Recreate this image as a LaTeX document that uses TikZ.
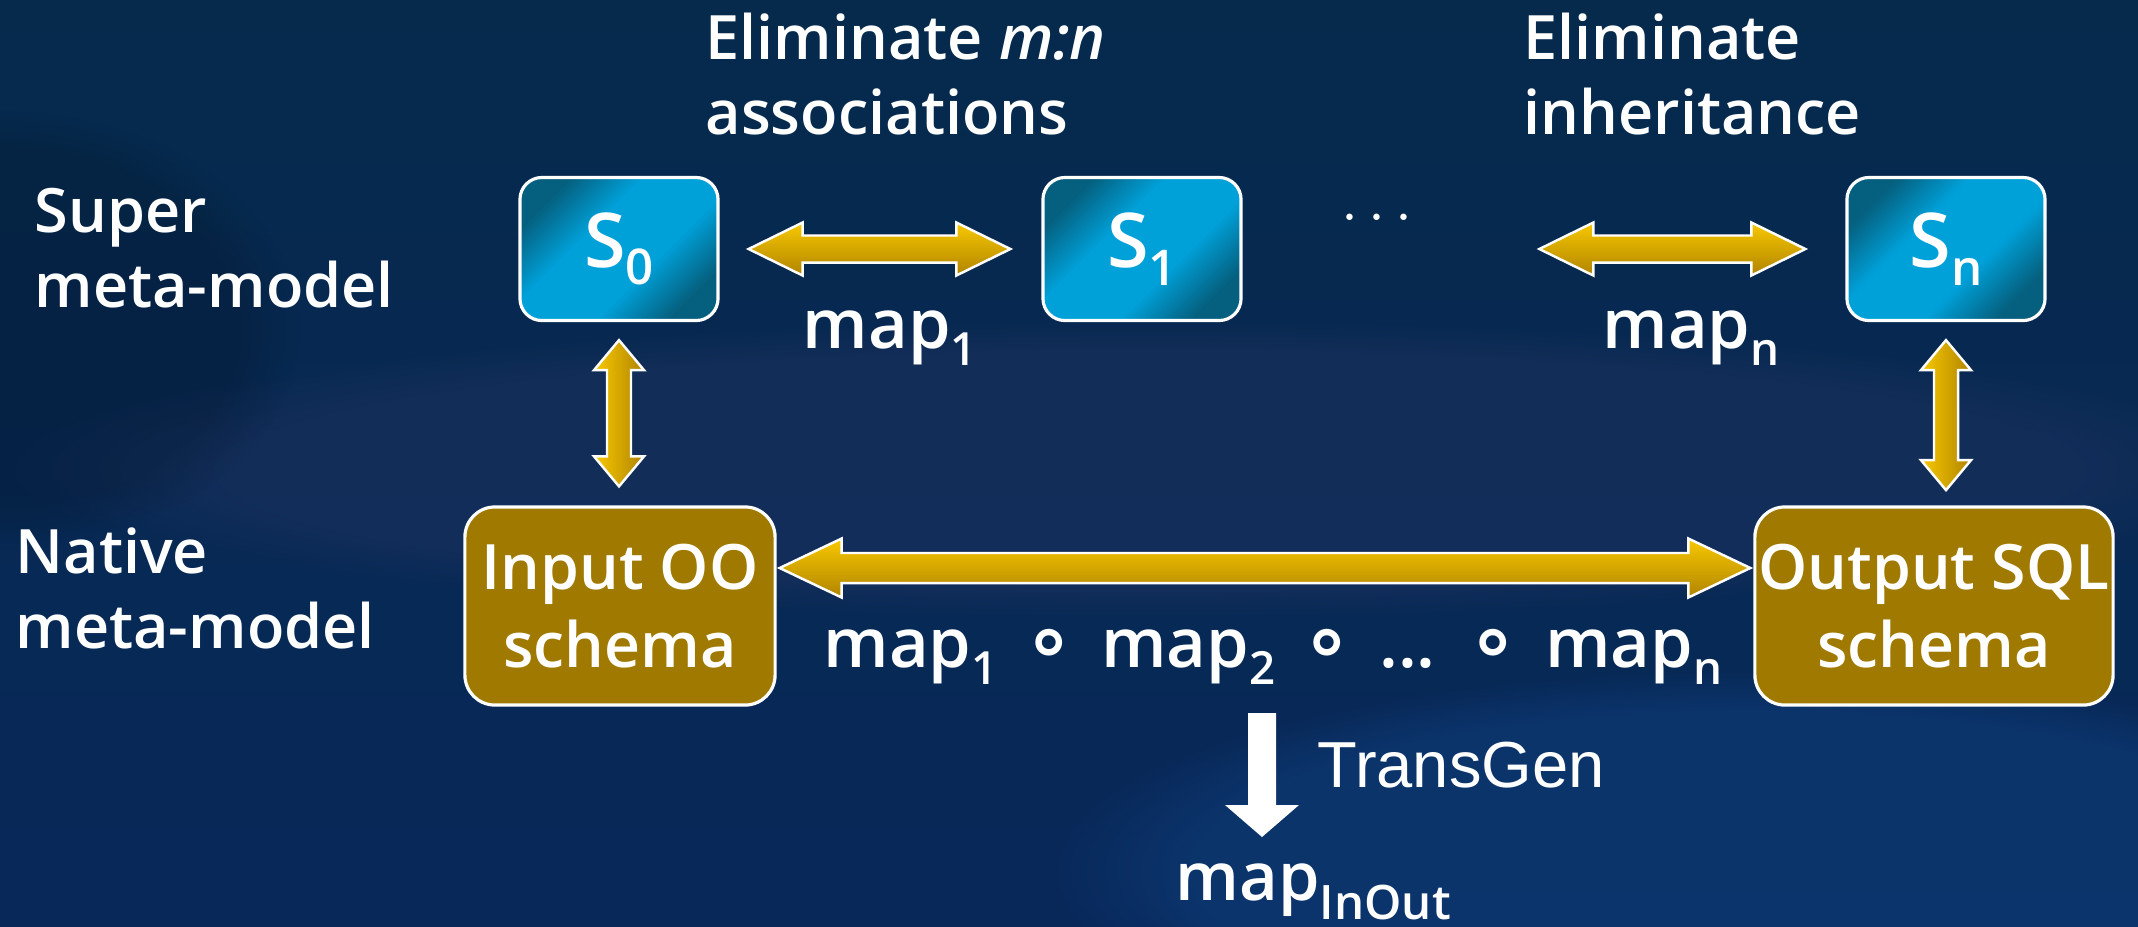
\documentclass[tikz,border=0pt]{standalone}
\usepackage{fontspec}
\IfFontExistsTF{Open Sans SemiBold}
  {\setmainfont{Open Sans SemiBold}}
  {\IfFontExistsTF{Open Sans Semibold}
    {\setmainfont{Open Sans Semibold}}
    {\setmainfont{Open Sans}[UprightFeatures={FakeBold=2}, ItalicFeatures={FakeBold=2}]}}
\newfontfamily\arialfont{Liberation Sans}
\newfontfamily\opfont{DejaVu Sans Bold}
\usetikzlibrary{calc,fadings}

\definecolor{bgtop}{HTML}{062A4C}
\definecolor{bgmid}{HTML}{0B2249}
\definecolor{bgbot}{HTML}{08285A}
\definecolor{streak}{HTML}{2C3766}
\definecolor{glow}{HTML}{0E3C78}
\definecolor{tealdark}{HTML}{05607F}
\definecolor{teallight}{HTML}{00A0D8}
\definecolor{schemabrown}{HTML}{A07A00}
\definecolor{goldlight}{HTML}{F8C800}
\definecolor{golddark}{HTML}{B08400}

\pgfdeclareverticalshading{tealbox}{100bp}{color(0bp)=(tealdark); color(25bp)=(tealdark);
  color(40bp)=(teallight); color(60bp)=(teallight); color(75bp)=(tealdark); color(100bp)=(tealdark)}

% lowered index, size and drop
\newcommand\idx[3][14pt]{\raisebox{-#2}{\fontsize{#1}{#1}\selectfont #3}}
\newcommand\comp{\hspace{0.12em}\raisebox{-0.5pt}{\scalebox{1.2}{\opfont ∘}}\hspace{0.12em}}

% double block arrows: from, to, head length, head half width, shaft half width
\newcommand\dblarrowH[5]{%
  \path[goldH] let \p1=#1, \p2=#2 in
    (\x1,\y1) -- (\x1+#3,\y1+#4) -- (\x1+#3,\y1+#5) -- (\x2-#3,\y1+#5) -- (\x2-#3,\y1+#4) -- (\x2,\y1)
    -- (\x2-#3,\y1-#4) -- (\x2-#3,\y1-#5) -- (\x1+#3,\y1-#5) -- (\x1+#3,\y1-#4) -- cycle;}
\newcommand\dblarrowV[5]{%
  \path[goldV] let \p1=#1, \p2=#2 in
    (\x1,\y1) -- (\x1+#4,\y1-#3) -- (\x1+#5,\y1-#3) -- (\x1+#5,\y2+#3) -- (\x1+#4,\y2+#3) -- (\x1,\y2)
    -- (\x1-#4,\y2+#3) -- (\x1-#5,\y2+#3) -- (\x1-#5,\y1-#3) -- (\x1-#4,\y1-#3) -- cycle;}

\tikzset{
  sbox/.style={draw=white, line width=0.9pt, rounded corners=0.22cm, shading=tealbox, shading angle=45,
    minimum width=1.98cm, minimum height=1.43cm, inner sep=0pt, text=white,
    font=\fontsize{21.5}{24}\selectfont},
  nbox/.style={draw=white, line width=0.9pt, rounded corners=0.3cm, fill=schemabrown,
    minimum height=1.98cm, inner sep=0pt, text=white, align=center,
    font=\fontsize{17.8}{22}\selectfont},
  lbl/.style={text=white, inner sep=0pt, align=left, font=\fontsize{17.4}{21.3}\selectfont},
  maplbl/.style={text=white, inner sep=0pt, font=\fontsize{19.5}{22}\selectfont},
  goldH/.style={draw=white, line width=0.7pt, top color=goldlight, bottom color=golddark},
  goldV/.style={draw=white, line width=0.7pt, left color=goldlight, right color=golddark},
}

\begin{document}
\begin{tikzpicture}[x=0.01cm, y=-0.01cm]
\useasboundingbox (0,0) rectangle (2138,926);

% Background
\fill[top color=bgtop, middle color=bgmid, bottom color=bgbot] (0,0) rectangle (2138,926);
\fill[streak, opacity=0.3, path fading=circle with fuzzy edge 20 percent] (1150,470) ellipse (1150 and 150);
\fill[glow, opacity=0.6, path fading=circle with fuzzy edge 20 percent] (1750,870) ellipse (700 and 200);
\fill[black, opacity=0.15, path fading=circle with fuzzy edge 20 percent] (0,330) ellipse (300 and 220);

% Row labels
\node[lbl, anchor=base west] (super) at (34,307) {Super\\meta-model};
\node[lbl, anchor=base west] (native) at (15,648) {Native\\meta-model};

% Step labels
\node[lbl, anchor=base west] (elimmn) at (705,134) {Eliminate \textit{m:n}\\associations};
\node[lbl, anchor=base west] (eliminh) at (1523,134) {Eliminate\\inheritance};

% Super meta-model schemas
\node[sbox] (s0) at (619,249) {S\idx{5pt}{0}};
\node[sbox] (s1) at (1142,249) {S\idx{5pt}{1}};
\node[sbox] (sn) at (1946,249) {S\idx{5pt}{n}};
\node[text=white, font=\fontsize{18}{18}\selectfont] (dots) at (1377,219) {$\cdots$};

% Native schemas
\node[nbox, minimum width=3.10cm] (in) at (620,606) {Input OO\\schema};
\node[nbox, minimum width=3.58cm] (out) at (1934,606) {Output SQL\\schema};

% Mappings
\dblarrowH{($(s0.east)+(29,0)$)}{($(s1.west)+(-31,0)$)}{0.54cm}{0.265cm}{0.135cm}
\dblarrowH{($(sn.west)+(-306,0)$)}{($(sn.west)+(-40,0)$)}{0.54cm}{0.265cm}{0.135cm}
\dblarrowV{($(s0.south)+(0,18)$)}{($(in.north)+(0,-19)$)}{0.30cm}{0.25cm}{0.12cm}
\dblarrowV{($(sn.south)+(0,18)$)}{($(sn.south)+(0,168)$)}{0.30cm}{0.25cm}{0.12cm}
\dblarrowH{($(in.east)+(3,-38)$)}{($(out.west)+(-3,-38)$)}{0.62cm}{0.295cm}{0.15cm}

\node[maplbl, anchor=base] (map1) at (890,348) {map\idx[13pt]{5pt}{1}};
\node[maplbl, anchor=base] (mapn) at (1691,348) {map\idx[13pt]{5pt}{n}};
\node[maplbl, anchor=base] (comp) at (1273,667)
  {map\idx[13pt]{5pt}{1} \comp{} map\idx[13pt]{5pt}{2} \comp{} ... \comp{} map\idx[13pt]{5pt}{n}};

% TransGen
\coordinate (tgtop) at (1262,713);
\coordinate (tgtip) at (1262,837);
\fill[white] let \p1=(tgtop), \p2=(tgtip) in
  (\x1-0.14cm,\y1) -- (\x1+0.14cm,\y1) -- (\x1+0.14cm,\y2+0.32cm) -- (\x1+0.37cm,\y2+0.32cm)
  -- (\x2,\y2) -- (\x1-0.37cm,\y2+0.32cm) -- (\x1-0.14cm,\y2+0.32cm) -- cycle;
\node[text=white, inner sep=0pt, anchor=base west, font=\arialfont\fontsize{18.5}{22}\selectfont] (tglbl) at (1317,787) {TransGen};
\node[maplbl, anchor=base west, font=\fontsize{19}{22}\selectfont] (mapio) at (1175,900) {map\idx[13.5pt]{5.5pt}{InOut}};
\end{tikzpicture}
\end{document}
